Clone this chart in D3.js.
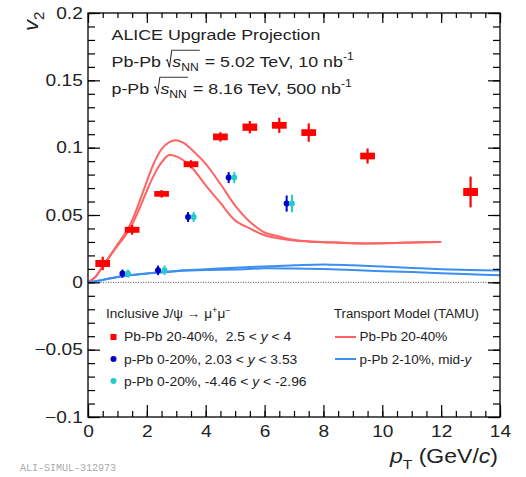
<!DOCTYPE html>
<html>
<head>
<meta charset="utf-8">
<script src="https://cdn.jsdelivr.net/npm/d3@7"></script>
<style>
body { margin: 0; background: #fff; }
svg { display: block; font-family: "Liberation Sans", Arial, Helvetica, sans-serif; }
text { white-space: pre; }
</style>
</head>
<body>
<svg width="526" height="477"></svg>
<script>
// ALICE J/psi v2 data
var ptPbPb   = [0.5, 1.5, 2.5, 3.5, 4.5, 5.5, 6.5, 7.5, 9.5, 13];
var v2PbPb   = [0.014, 0.039, 0.0657, 0.0877, 0.108, 0.1152, 0.1166, 0.1112, 0.0938, 0.0671];
var statPbPb = [0.005, 0.0036, 0.0028, 0.003, 0.0035, 0.0046, 0.0056, 0.0068, 0.0056, 0.0114];
var sysPbPb  = [0.0026, 0.0022, 0.0021, 0.0022, 0.0025, 0.0027, 0.0025, 0.0025, 0.0025, 0.003];

var ptFwd  = [1.17, 2.38, 3.40, 4.78, 6.75];
var v2Fwd  = [0.0065, 0.0089, 0.0485, 0.0778, 0.0585];
var errFwd = [0.003, 0.0035, 0.0037, 0.0041, 0.006];

var ptBwd  = [1.36, 2.6, 3.59, 4.97, 6.93];
var v2Bwd  = [0.0065, 0.0089, 0.0485, 0.0778, 0.0585];
var errBwd = [0.003, 0.0035, 0.0037, 0.0041, 0.0065];

// TAMU transport model bands (upper / lower edges)
var ptModelPbPb = [0, 0.25, 0.5, 0.75, 1, 1.25, 1.5, 1.75, 2, 2.25, 2.5, 2.75, 3, 3.25, 3.5, 4, 4.5, 5, 5.5, 6, 6.5, 7, 7.5, 8, 9, 10, 11, 12];
var modelPbPbHi = [0, 0.004, 0.012, 0.02, 0.028, 0.036, 0.046, 0.06, 0.075, 0.089, 0.099, 0.104, 0.1055, 0.1035, 0.099, 0.088, 0.073, 0.057, 0.045, 0.037, 0.034, 0.0315, 0.0305, 0.030, 0.029, 0.029, 0.0295, 0.030];
var modelPbPbLo = [0, 0.004, 0.012, 0.0195, 0.027, 0.034, 0.043, 0.055, 0.068, 0.08, 0.089, 0.0945, 0.0935, 0.0905, 0.086, 0.072, 0.059, 0.046, 0.040, 0.035, 0.0325, 0.031, 0.0302, 0.0298, 0.029, 0.029, 0.0295, 0.030];

var ptModelPPb = [0, 0.5, 1, 1.5, 2, 3, 4, 5, 6, 7, 8, 9, 10, 11, 12, 13, 14];
var modelPPbHi = [0, 0.0018, 0.004, 0.0055, 0.0066, 0.0085, 0.0097, 0.0109, 0.0118, 0.0126, 0.0133, 0.0126, 0.0117, 0.0107, 0.0097, 0.0091, 0.0087];
var modelPPbLo = [0, 0.0018, 0.004, 0.0055, 0.0065, 0.0083, 0.0092, 0.0095, 0.0104, 0.0102, 0.0099, 0.0092, 0.0083, 0.0076, 0.0068, 0.006, 0.0052];

var xMajor = [0, 2, 4, 6, 8, 10, 12, 14];
var yMajor = [-0.1, -0.05, 0, 0.05, 0.1, 0.15, 0.2];

var red = "#ff0000", redModel = "#ff6464", blueModel = "#3c8ff0",
    darkBlue = "#0000c8", cyan = "#22cccc", ink = "#222";

var svg = d3.select("svg");

var x = d3.scaleLinear().domain([0, 14]).range([88, 500]);
var y = d3.scaleLinear().domain([-0.1, 0.2]).range([417, 13]);

// rich text pieces drawn on a local baseline (y = 0)
function richLocal(g, cx, parts, size) {
  parts.forEach(function(p) {
    if (p.rad) {
      var rx = cx, top = -1.05 * size;
      g.append("path")
        .attr("d", "M" + rx + "," + (-0.38 * size) + "L" + (rx + 1.2) + "," + (-0.44 * size) +
                   "L" + (rx + 3) + "," + (0.05 * size) + "L" + (rx + 5) + "," + top)
        .attr("fill", "none").attr("stroke", ink).attr("stroke-width", 0.9);
      cx = richLocal(g, rx + 5.5, p.rad, size);
      g.append("line")
        .attr("x1", rx + 5).attr("x2", cx + 1)
        .attr("y1", top).attr("y2", top)
        .attr("stroke", ink).attr("stroke-width", 0.9);
      cx += 1;
      return;
    }
    var fs = p.s ? size * 0.68 : size;
    var dy = p.s === "sub" ? size * 0.3 : p.s === "sup" ? -size * 0.42 : 0;
    var t = g.append("text")
      .attr("x", cx).attr("y", dy)
      .attr("font-size", fs)
      .attr("fill", ink)
      .style("font-style", p.i ? "italic" : null)
      .text(p.t);
    cx += t.node().getComputedTextLength();
  });
  return cx;
}

// the figure's text is a bit wider than Arial, so stretch it horizontally
function rich(g, x0, y0, parts, size, sx) {
  var gg = g.append("g").attr("transform", "translate(" + x0 + "," + y0 + ") scale(" + (sx || 1) + ",1)");
  return richLocal(gg, 0, parts, size);
}

// zero line
svg.append("line")
  .attr("x1", x(0)).attr("x2", x(14))
  .attr("y1", y(0)).attr("y2", y(0))
  .attr("stroke", "#555").attr("stroke-width", 1)
  .attr("stroke-dasharray", "1,1.5");

// model curves
var line = d3.line().curve(d3.curveCatmullRom.alpha(0.5))
  .x(function(d) { return x(d[0]); })
  .y(function(d) { return y(d[1]); });

[modelPbPbHi, modelPbPbLo].forEach(function(arr) {
  svg.append("path")
    .datum(d3.zip(ptModelPbPb, arr))
    .attr("d", line)
    .attr("fill", "none").attr("stroke", redModel).attr("stroke-width", 2);
});
[modelPPbHi, modelPPbLo].forEach(function(arr) {
  svg.append("path")
    .datum(d3.zip(ptModelPPb, arr))
    .attr("d", line)
    .attr("fill", "none").attr("stroke", blueModel).attr("stroke-width", 2);
});

// Pb-Pb points: syst boxes + stat bars
var pb = svg.append("g").selectAll("g")
  .data(d3.range(ptPbPb.length))
  .enter().append("g");
pb.append("rect")
  .attr("x", function(i) { return x(ptPbPb[i] - 0.25); })
  .attr("width", function(i) { return x(ptPbPb[i] + 0.25) - x(ptPbPb[i] - 0.25); })
  .attr("y", function(i) { return y(v2PbPb[i] + sysPbPb[i]); })
  .attr("height", function(i) { return y(v2PbPb[i] - sysPbPb[i]) - y(v2PbPb[i] + sysPbPb[i]); })
  .attr("fill", red);
pb.append("line")
  .attr("x1", function(i) { return x(ptPbPb[i]); })
  .attr("x2", function(i) { return x(ptPbPb[i]); })
  .attr("y1", function(i) { return y(v2PbPb[i] + statPbPb[i]); })
  .attr("y2", function(i) { return y(v2PbPb[i] - statPbPb[i]); })
  .attr("stroke", red).attr("stroke-width", 2.2);

// p-Pb points
function circles(pts, vals, errs, col) {
  var g = svg.append("g").selectAll("g")
    .data(d3.range(pts.length))
    .enter().append("g");
  g.append("line")
    .attr("x1", function(i) { return x(pts[i]); })
    .attr("x2", function(i) { return x(pts[i]); })
    .attr("y1", function(i) { return y(vals[i] + errs[i]); })
    .attr("y2", function(i) { return y(vals[i] - errs[i]); })
    .attr("stroke", col).attr("stroke-width", 2);
  g.append("circle")
    .attr("cx", function(i) { return x(pts[i]); })
    .attr("cy", function(i) { return y(vals[i]); })
    .attr("r", 3)
    .attr("fill", col);
}
circles(ptFwd, v2Fwd, errFwd, darkBlue);
circles(ptBwd, v2Bwd, errBwd, cyan);

// axes: ticks inside on all four sides
var fmt = function(d) { return d === 0 ? "0" : d3.format("~g")(d); };
function styleAxis(g) {
  g.select(".domain").remove();
  g.selectAll("line").attr("stroke", "#000").attr("stroke-width", 1.2);
  g.selectAll("text").attr("fill", ink).attr("font-size", 16.5)
    .attr("font-family", "'Liberation Sans', Arial, sans-serif")
    .attr("transform", "scale(1.16,1)");
}
svg.append("g").attr("transform", "translate(0," + y(-0.1) + ")")
  .call(d3.axisBottom(x).tickValues(xMajor).tickSize(-12).tickPadding(8).tickFormat(fmt)).call(styleAxis);
svg.append("g").attr("transform", "translate(0," + y(-0.1) + ")")
  .call(d3.axisBottom(x).tickValues(d3.range(0, 14.01, 0.5)).tickSize(-6).tickFormat("")).call(styleAxis);
svg.append("g").attr("transform", "translate(0," + y(0.2) + ")")
  .call(d3.axisTop(x).tickValues(xMajor).tickSize(-10).tickFormat("")).call(styleAxis);
svg.append("g").attr("transform", "translate(0," + y(0.2) + ")")
  .call(d3.axisTop(x).tickValues(d3.range(0, 14.01, 0.5)).tickSize(-5).tickFormat("")).call(styleAxis);
svg.append("g").attr("transform", "translate(" + x(0) + ",0)")
  .call(d3.axisLeft(y).tickValues(yMajor).tickSize(-12).tickPadding(4.5).tickFormat(fmt)).call(styleAxis);
svg.append("g").attr("transform", "translate(" + x(0) + ",0)")
  .call(d3.axisLeft(y).tickValues(d3.range(-0.1, 0.2001, 0.01)).tickSize(-7).tickFormat("")).call(styleAxis);
svg.append("g").attr("transform", "translate(" + x(14) + ",0)")
  .call(d3.axisRight(y).tickValues(yMajor).tickSize(-12).tickFormat("")).call(styleAxis);
svg.append("g").attr("transform", "translate(" + x(14) + ",0)")
  .call(d3.axisRight(y).tickValues(d3.range(-0.1, 0.2001, 0.01)).tickSize(-7).tickFormat("")).call(styleAxis);

// frame
svg.append("rect")
  .attr("x", x(0)).attr("y", y(0.2))
  .attr("width", x(14) - x(0)).attr("height", y(-0.1) - y(0.2))
  .attr("fill", "none").attr("stroke", "#000").attr("stroke-width", 1.3);

// axis titles
var ttl = svg.append("g");
rich(ttl, 390, 463, [{t: "p", i: true}, {t: "T", s: "sub"}, {t: " (GeV/"}, {t: "c", i: true}, {t: ")"}], 20, 1.15);
var yt = svg.append("g").attr("transform", "translate(38,31) rotate(-90)");
rich(yt, 0, 0, [{t: "v", i: true}, {t: "2", s: "sub"}], 21, 1.05);

// header
var hd = svg.append("g");
rich(hd, 111.5, 39.5, [{t: "ALICE Upgrade Projection"}], 15.5, 1.15);
rich(hd, 111.5, 66.5, [{t: "Pb-Pb "}, {rad: [{t: "s", i: true}, {t: "NN", s: "sub"}]},
  {t: " = 5.02 TeV, 10 nb"}, {t: "-1", s: "sup"}], 15.5, 1.15);
rich(hd, 111.5, 93.5, [{t: "p-Pb "}, {rad: [{t: "s", i: true}, {t: "NN", s: "sub"}]},
  {t: " = 8.16 TeV, 500 nb"}, {t: "-1", s: "sup"}], 15.5, 1.15);

// legend
var lg = svg.append("g");
var ls = 12.5, lsx = 1.11;
rich(lg, 106, 318, [{t: "Inclusive J/\u03c8 \u2192 \u03bc"}, {t: "+", s: "sup"}, {t: "\u03bc"}, {t: "\u2212", s: "sup"}], ls, 1.09);
lg.append("rect").attr("x", 110.5).attr("y", 334).attr("width", 6).attr("height", 6).attr("fill", red);
rich(lg, 124, 341, [{t: "Pb-Pb 20-40%,  2.5 < "}, {t: "y", i: true}, {t: " < 4"}], ls, lsx);
lg.append("circle").attr("cx", 113.5).attr("cy", 359).attr("r", 3).attr("fill", darkBlue);
rich(lg, 124, 363.5, [{t: "p-Pb 0-20%, 2.03 < "}, {t: "y", i: true}, {t: " < 3.53"}], ls, lsx);
lg.append("circle").attr("cx", 113.5).attr("cy", 381).attr("r", 3).attr("fill", cyan);
rich(lg, 124, 385.5, [{t: "p-Pb 0-20%, -4.46 < "}, {t: "y", i: true}, {t: " < -2.96"}], ls, lsx);

rich(lg, 334, 318, [{t: "Transport Model (TAMU)"}], ls, 1.06);
lg.append("line").attr("x1", 335).attr("x2", 356).attr("y1", 337).attr("y2", 337)
  .attr("stroke", redModel).attr("stroke-width", 2);
rich(lg, 359.5, 341, [{t: "Pb-Pb 20-40%"}], ls, 1.08);
lg.append("line").attr("x1", 335).attr("x2", 356).attr("y1", 359).attr("y2", 359)
  .attr("stroke", blueModel).attr("stroke-width", 2);
rich(lg, 359.5, 363.5, [{t: "p-Pb 2-10%, mid-"}, {t: "y", i: true}], ls, 1.08);

// figure id
svg.append("text")
  .attr("x", 20).attr("y", 471)
  .attr("font-family", "'Liberation Mono', monospace")
  .attr("font-size", 10)
  .attr("fill", "#aaa")
  .text("ALI-SIMUL-312973");
</script>
</body>
</html>
